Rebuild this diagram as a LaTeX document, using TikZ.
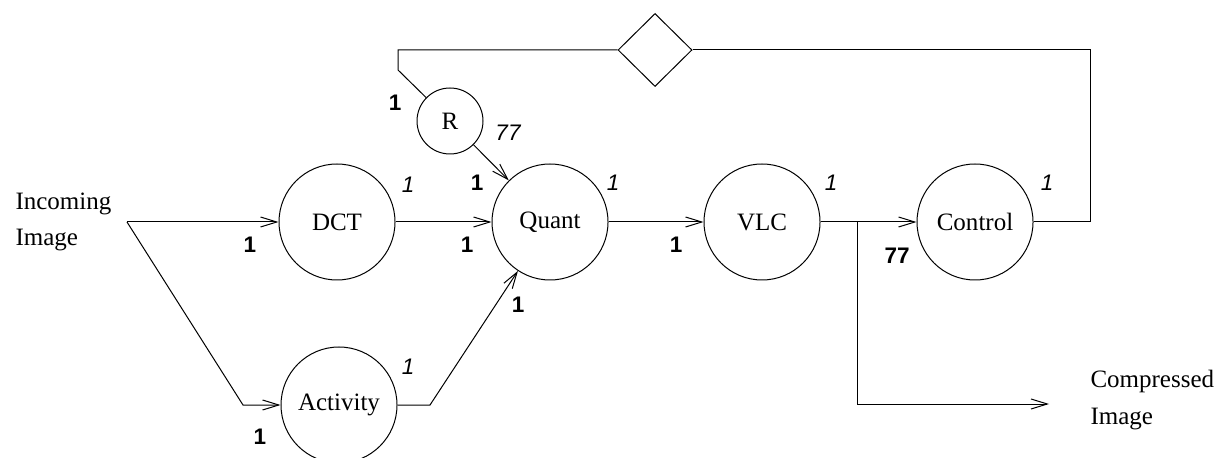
\documentclass[tikz,border=0pt]{standalone}
\usepackage{fontspec}
\setmainfont{Liberation Serif}
\setsansfont{Liberation Sans}
\usetikzlibrary{shapes.geometric,arrows.meta}

\tikzset{
  proc/.style={draw, circle, minimum size=46.4pt, inner sep=0pt, font=\fontsize{10}{12}\selectfont},
  arr/.style={-{Straight Barb[length=6.5pt,width=4pt]}},
  wt/.style={font=\sffamily\bfseries\fontsize{9}{10}\selectfont, inner sep=0pt},
  rt/.style={font=\sffamily\itshape\fontsize{9}{10}\selectfont, inner sep=0pt},
  io/.style={align=left, inner sep=0pt, font=\fontsize{10}{14.5}\selectfont}
}

\begin{document}
\begin{tikzpicture}[x=0.4pt, y=-0.4pt, line width=0.4pt]
  \useasboundingbox (0,0) rectangle (1217,458);
  % actors
  \node[proc] (dct) at (337,222) {DCT};
  \node[proc] (act) at (339,405) {Activity};
  \node[proc] (quant) at (550,222) {Quant};
  \node[proc] (vlc) at (762,222) {VLC};
  \node[proc] (ctrl) at (975,222) {Control};
  \node[proc, minimum size=26.4pt] (r) at (450,121) {R};
  \node[draw, diamond, minimum width=29.6pt, minimum height=29.2pt, inner sep=0pt] (dia) at (655,50) {};
  \node[io, anchor=west] (inimg) at (15,222) {Incoming\\Image};
  \node[io, anchor=west] (outimg) at (1090,400) {Compressed\\Image};

  % bends
  \coordinate (src) at (127,222);
  \coordinate (srcdn) at (243,405);
  \coordinate (actout) at (430,405);
  \coordinate (fork) at (857,222);
  \coordinate (forkdn) at (857,404);
  \coordinate (outend) at (1049,404);
  \coordinate (fbr) at (1090,222);
  \coordinate (fbtr) at (1090,50);
  \coordinate (fbtl) at (398,50);
  \coordinate (fbl) at (398,70);

  % edges
  \draw[arr] (src) -- (dct);
  \draw[arr] (src) -- (srcdn) -- (act);
  \draw[arr] (dct) -- (quant);
  \draw[arr] (act) -- (actout) -- (quant);
  \draw[arr] (r) -- (quant);
  \draw[arr] (quant) -- (vlc);
  \draw[arr] (vlc) -- (ctrl);
  \draw[arr] (fork) -- (forkdn) -- (outend);
  \draw (ctrl) -- (fbr) -- (fbtr) -- (dia.east);
  \draw (dia.west) -- (fbtl) -- (fbl) -- (r);

  % rates
  \node[wt] (w1) at (395,103) {1};
  \node[rt] (p1) at (508,133) {77};
  \node[wt] (w2) at (477,183) {1};
  \node[rt] (p2) at (613,183) {1};
  \node[rt] (p3) at (408,185) {1};
  \node[wt] (w3) at (467,245) {1};
  \node[wt] (w4) at (518,305) {1};
  \node[rt] (p4) at (408,367) {1};
  \node[wt] (w5) at (260,437) {1};
  \node[wt] (w6) at (250,245) {1};
  \node[wt] (w7) at (676,245) {1};
  \node[rt] (p5) at (831,183) {1};
  \node[rt] (p6) at (1047,183) {1};
  \node[wt] (w8) at (897,256) {77};
\end{tikzpicture}
\end{document}
